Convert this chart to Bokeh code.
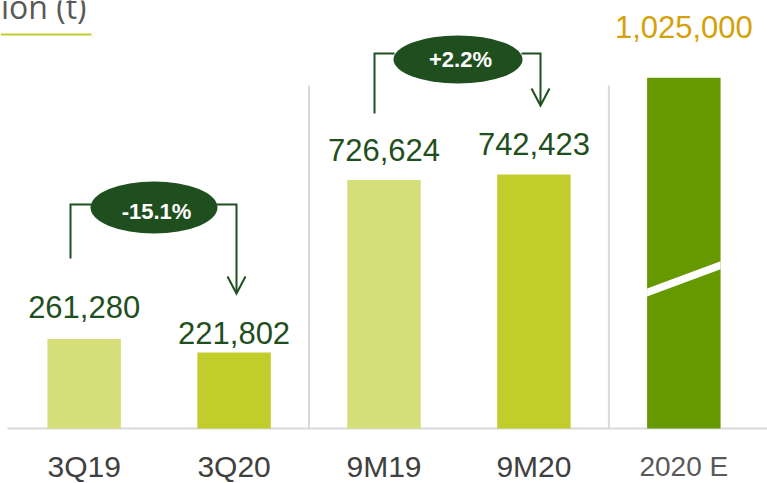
from bokeh.plotting import figure
from bokeh.models import FactorRange, Range1d, ColumnDataSource
from bokeh.core.properties import value
from bokeh.embed import file_html
from bokeh.resources import INLINE

# ---- data ----
cats = ["3Q19", "3Q20", "9M19", "9M20", "2020 E"]
values = [261280, 221802, 726624, 742423, 1025000]
value_labels = ["261,280", "221,802", "726,624", "742,423", "1,025,000"]
change_labels = ["-15.1%", "+2.2%"]
title_text = "ion (t)"

# ---- layout helpers ----
W, H = 767, 483
BASE = 428                      # px from top of plot to the zero line
PX = 742423 / 254.0             # value units per screen pixel
PAD = 0.058                     # category padding on each side
UNIT = W / (len(cats) + 2 * PAD)   # px per category
TXT = 0.33                      # baseline correction (fraction of font size)


def sx(px):
    return px / UNIT - PAD


def sy(py):
    return (BASE - py) * PX


p = figure(width=W, height=H,
           x_range=FactorRange(factors=cats, range_padding=PAD,
                               range_padding_units="absolute"),
           y_range=Range1d(-(H - BASE) * PX, BASE * PX),
           output_backend="svg", toolbar_location=None,
           x_axis_location=None, y_axis_location=None,
           min_border=0, outline_line_color=None,
           background_fill_color="white", border_fill_color="white")
p.grid.visible = False

LIGHT, MID, DARK = "#D6DE7A", "#C0CD2A", "#669900"
bar_colors = [LIGHT, MID, LIGHT, MID, DARK]

# separators and baseline
p.segment(x0=[2, 4], y0=[0, 0], x1=[2, 4], y1=[sy(85), sy(85)],
          line_color="#D9D9D9", line_width=2)
p.segment(x0=[sx(7)], y0=[0], x1=[sx(767)], y1=[0],
          line_color="#D9D9D9", line_width=2)

src = ColumnDataSource(dict(cat=cats, val=values, color=bar_colors))
p.vbar(x="cat", top="val", width=0.49, fill_color="color", line_color=None, source=src)

# break mark on the estimate bar
bx0 = 4.5 - 0.245
bx1 = 4.5 + 0.245
p.patch(x=[bx0, bx1, bx1, bx0],
        y=[sy(296), sy(268.7), sy(260.7), sy(288)],
        fill_color="white", line_color=None)

# value labels (offset above bar top, px)
offs = [22, 9, 20, 20, 41]
lab_y = [v + (o + TXT * 31) * PX for v, o in zip(values, offs)]
lab_col = ["#1F4E20"] * 4 + ["#D4A10A"]
p.text(x=cats, y=lab_y, text=value_labels, text_color=lab_col,
       text_font=value("Liberation Sans"), text_font_size="31px",
       text_align="center", text_baseline="alphabetic")

# category labels
cat_sizes = ["30px"] * 4 + ["28px"]
cat_cols = ["#404040"] * 4 + ["#595959"]
csrc = ColumnDataSource(dict(x=cats, y=[sy(476 - TXT * 30)] * 5, t=cats,
                             s=cat_sizes, c=cat_cols))
p.text(x="x", y="y", text="t", text_font_size="s", text_color="c",
       text_font=value("Liberation Sans"), text_align="center",
       text_baseline="alphabetic", source=csrc)

# connectors
GREEN = "#1F4E1F"
xs = [
    [sx(70), sx(70), sx(91)],
    [sx(216), sx(236), sx(236)],
    [sx(227), sx(236), sx(245)],
    [sx(374), sx(374), sx(394)],
    [sx(521), sx(540), sx(540)],
    [sx(531), sx(540), sx(549)],
]
ys = [
    [sy(258), sy(204), sy(204)],
    [sy(204), sy(204), sy(292)],
    [sy(276), sy(293), sy(276)],
    [sy(113), sy(53), sy(53)],
    [sy(53), sy(53), sy(104)],
    [sy(88), sy(105), sy(88)],
]
p.multi_line(xs=xs, ys=ys, line_color=GREEN, line_width=2, line_join="miter")

p.ellipse(x=[sx(153.5), sx(457.5)], y=[sy(207), sy(59)],
          width=[127, 129], height=[52, 48],
          width_units="screen", height_units="screen",
          fill_color=GREEN, line_color=None)
p.text(x=[sx(156), sx(460)], y=[sy(218 - TXT * 22), sy(66 - TXT * 22)],
       text=change_labels, text_color="white",
       text_font=value("Liberation Sans"),
       text_font_size="22px", text_font_style="bold",
       text_align="center", text_baseline="alphabetic")

# title fragment and underline
p.text(x=[sx(86)], y=[sy(17 - TXT * 32)], text=[title_text], text_color="#595959",
       text_font=value("Open Sans"), text_font_size="32px",
       text_align="right", text_baseline="alphabetic")
p.segment(x0=[sx(0)], y0=[sy(34)], x1=[sx(91)], y1=[sy(34)],
          line_color=MID, line_width=2)

open("out.html", "w").write(file_html(p, INLINE))
